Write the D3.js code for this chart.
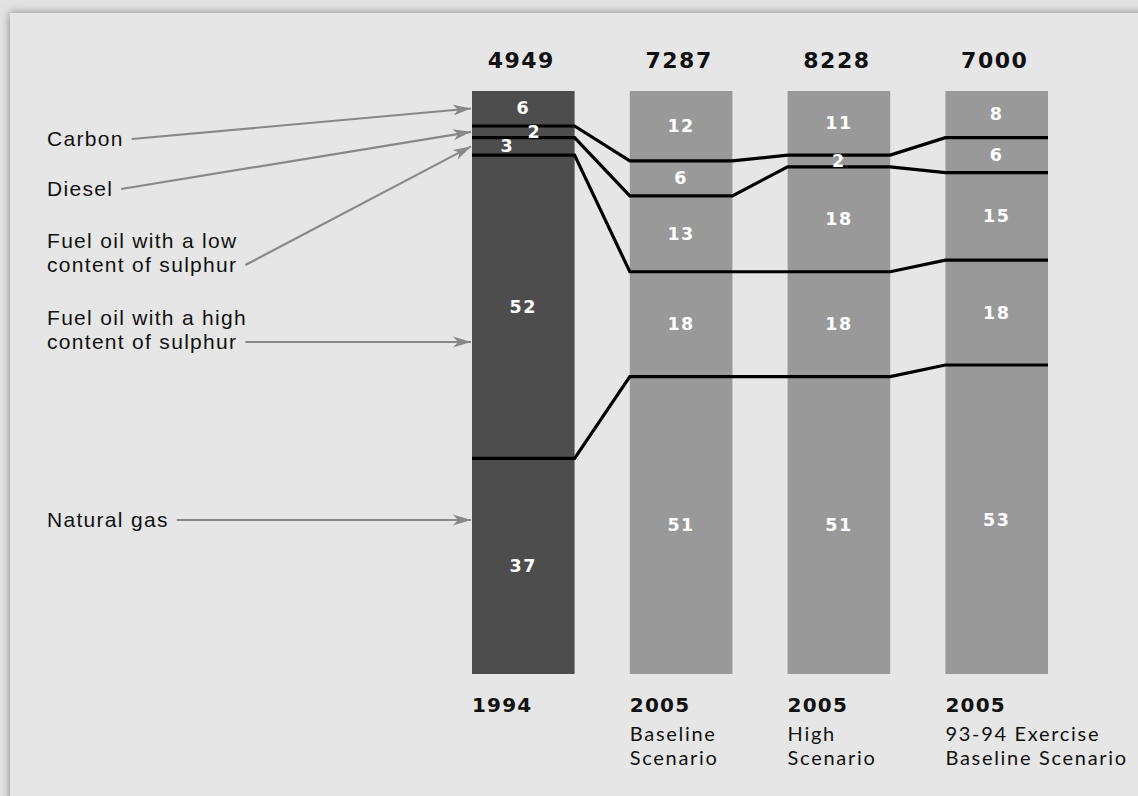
<!DOCTYPE html>
<html>
<head>
<meta charset="utf-8">
<script src="https://cdn.jsdelivr.net/npm/d3@7"></script>
<style>
  html, body { margin: 0; padding: 0; background: #e2e2e2; }
  svg { display: block; }
</style>
</head>
<body>
<svg id="chart" width="1138" height="796"></svg>
<script>
// Fuel mix (% of total) for each scenario, stacked from top to bottom
const yearLabels = ["1994", "2005", "2005", "2005"];
const scenarioLabels = [[], ["Baseline", "Scenario"], ["High", "Scenario"], ["93-94 Exercise", "Baseline Scenario"]];
const totals = [4949, 7287, 8228, 7000];

const fuelNames = [
  ["Carbon"],
  ["Diesel"],
  ["Fuel oil with a low", "content of sulphur"],
  ["Fuel oil with a high", "content of sulphur"],
  ["Natural gas"]
];
const carbon      = [6, 12, 11, 8];
const diesel      = [2, 6, 2, 6];
const lowSulphur  = [3, 13, 18, 15];
const highSulphur = [52, 18, 18, 18];
const naturalGas  = [37, 51, 51, 53];

const series = [carbon, diesel, lowSulphur, highSulphur, naturalGas];

const svg = d3.select("#chart");
const W = 1138, H = 796;

// ---- frame with soft shadow on the top and left edges ----
const defs = svg.append("defs");
defs.append("filter").attr("id", "shade")
  .attr("x", "-5%").attr("y", "-5%").attr("width", "110%").attr("height", "110%")
  .append("feGaussianBlur").attr("stdDeviation", 4.5);

svg.append("rect").attr("width", W).attr("height", H).attr("fill", "#e2e2e2");
svg.append("rect").attr("x", 10).attr("y", 13).attr("width", W + 20).attr("height", H + 20)
  .attr("fill", "#808080").attr("filter", "url(#shade)");
svg.append("rect").attr("x", 10).attr("y", 13).attr("width", W).attr("height", H)
  .attr("fill", "#e6e6e6");

// ---- scales ----
const idx = d3.range(totals.length);
const x = d3.scaleBand().domain(idx).range([472, 1048]).paddingInner(0.35).paddingOuter(0);
const y = d3.scaleLinear().domain([0, 100]).range([91, 674]);
const bw = x.bandwidth();

// cumulative boundaries per bar: stack[i] = [0, c1, c2, ..., 100]
const stacks = idx.map(i => {
  let acc = 0;
  const b = [0];
  series.forEach(s => { acc += s[i]; b.push(acc); });
  return b;
});

// ---- bars ----
const barFill = i => i === 0 ? "#4d4d4d" : "#999999";
idx.forEach(i => {
  svg.append("rect")
    .attr("x", x(i)).attr("y", y(0))
    .attr("width", bw).attr("height", y(stacks[i][series.length]) - y(0))
    .attr("fill", barFill(i));
});

// ---- boundary lines linking the stacks ----
const line = d3.line();
for (let k = 1; k < series.length; k++) {
  const pts = [];
  idx.forEach(i => {
    const yy = y(stacks[i][k]);
    pts.push([x(i), yy], [x(i) + bw, yy]);
  });
  svg.append("path").attr("d", line(pts))
    .attr("fill", "none").attr("stroke", "#000").attr("stroke-width", 3.2)
    .attr("stroke-linejoin", "miter");
}

// ---- segment values ----
// consecutive thin segments get their labels staggered sideways so they don't collide
idx.forEach(i => {
  let thinRun = 0;
  series.forEach((s, k) => {
    const y0 = y(stacks[i][k]), y1 = y(stacks[i][k + 1]);
    const prevThin = k > 0 && (y(stacks[i][k]) - y(stacks[i][k - 1])) < 20;
    const thin = (y1 - y0) < 20;
    let dx = 0;
    if (thin && prevThin) { thinRun++; dx = thinRun % 2 ? -16 : 11; }
    else if (thin && k + 1 < series.length && (y(stacks[i][k + 2]) - y1) < 20) { thinRun = 0; dx = 11; }
    else thinRun = 0;
    svg.append("text")
      .attr("x", x(i) + bw / 2 + dx).attr("y", (y0 + y1) / 2)
      .attr("text-anchor", "middle").attr("dominant-baseline", "central")
      .attr("fill", "#ffffff")
      .style("font-family", "'DejaVu Sans', Verdana, sans-serif")
      .style("font-weight", "bold").style("font-size", "17.5px")
      .style("letter-spacing", "1.5px")
      .text(s[i]);
  });
});

// ---- totals above bars ----
idx.forEach(i => {
  svg.append("text")
    .attr("x", x(i) + bw / 2 - 2).attr("y", 68)
    .attr("text-anchor", "middle")
    .attr("fill", "#111")
    .style("font-family", "'DejaVu Sans', Verdana, sans-serif")
    .style("font-weight", "bold").style("font-size", "22px")
    .style("letter-spacing", "1.5px")
    .text(totals[i]);
});

// ---- category labels below bars ----
idx.forEach(i => {
  const g = svg.append("g");
  g.append("text")
    .attr("x", x(i)).attr("y", 712)
    .attr("fill", "#111")
    .style("font-family", "'DejaVu Sans', Verdana, sans-serif")
    .style("font-weight", "bold").style("font-size", "20px")
    .style("letter-spacing", "1.2px")
    .text(yearLabels[i]);
  scenarioLabels[i].forEach((t, j) => {
    g.append("text")
      .attr("x", x(i)).attr("y", 741 + j * 24)
      .attr("fill", "#111")
      .style("font-family", "Lato, sans-serif")
      .style("font-size", "20px")
      .style("letter-spacing", "1.7px")
      .text(t);
  });
});

// ---- fuel names with arrows into the first bar ----
defs.append("marker").attr("id", "arrow")
  .attr("viewBox", "-18 -6 20 12").attr("refX", 0).attr("refY", 0)
  .attr("markerWidth", 20).attr("markerHeight", 12)
  .attr("markerUnits", "userSpaceOnUse").attr("orient", "auto")
  .append("path").attr("d", "M0,0 L-18,-5.5 L-13,0 L-18,5.5 Z").attr("fill", "#888");

const nameBaselines = [146, 196, 272, 349, 527];
const lineGap = 24;
fuelNames.forEach((lines, k) => {
  const t = svg.append("text")
    .attr("fill", "#111")
    .style("font-family", "'Liberation Sans', Arial, sans-serif")
    .style("font-size", "21px")
    .style("letter-spacing", "1.3px");
  const firstY = nameBaselines[k] - (lines.length - 1) * lineGap;
  let last;
  lines.forEach((ln, j) => {
    last = t.append("tspan").attr("x", 47).attr("y", firstY + j * lineGap).text(ln);
  });
  const bb = last.node().getComputedTextLength();
  const sx = 47 + bb + 8;
  const sy = nameBaselines[k] - 7;
  // point horizontally if the label sits beside its segment, otherwise aim at the segment centre
  const top = y(stacks[0][k]), bot = y(stacks[0][k + 1]);
  const ty = (sy > top + 4 && sy < bot - 4) ? sy : (top + bot) / 2;
  svg.append("line")
    .attr("x1", sx).attr("y1", sy).attr("x2", x(0) - 1).attr("y2", ty)
    .attr("stroke", "#888").attr("stroke-width", 2.2)
    .attr("marker-end", "url(#arrow)");
});
</script>
</body>
</html>
